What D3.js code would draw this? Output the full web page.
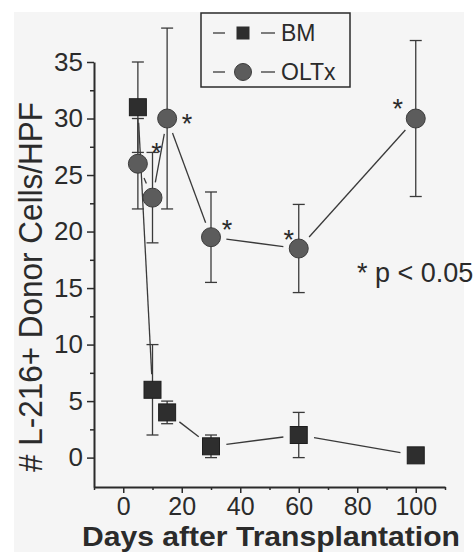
<!DOCTYPE html>
<html>
<head>
<meta charset="utf-8">
<script src="https://cdn.jsdelivr.net/npm/d3@7"></script>
<style>
  html, body { margin: 0; padding: 0; background: #fff; }
  svg { display: block; font-family: "Liberation Sans", Arial, sans-serif; }
</style>
</head>
<body>
<svg id="chart" width="475" height="552"></svg>
<script>
// data
var days = [5, 10, 15, 30, 60, 100];
var bmValues = [31, 6, 4, 1, 2, 0.2];
var bmErrors = [4, 4, 1, 1, 2, 0];
var olValues = [26, 23, 30, 19.5, 18.5, 30];
var olErrors = [4, 4, 8, 4, 3.9, 6.9];
// days marked significant, with label offsets in px
var starDays = [10, 15, 30, 60, 100];
var starOffsets = [[4, -51], [20, -1], [16, -13], [-10, -15], [-18, -16]];

var xMajor = [0, 20, 40, 60, 80, 100],
    xMinor = [-10, 10, 30, 50, 70, 90, 110],
    yMajor = [0, 5, 10, 15, 20, 25, 30, 35],
    yMinor = [2.5, 7.5, 12.5, 17.5, 22.5, 27.5, 32.5];

var ink = "#2b2b2b";

var svg = d3.select("#chart");

// paper tone of the scan
svg.append("rect")
    .attr("x", 14).attr("y", 12)
    .attr("width", 450).attr("height", 540)
    .attr("fill", "#f5f5f5");

var x = d3.scaleLinear().domain([-10, 110]).range([94, 445]),
    y = d3.scaleLinear().domain([-2.6, 35]).range([487, 62]);

// axes
var gx = svg.append("g").attr("transform", "translate(0,487)");
gx.call(d3.axisBottom(x).tickValues(xMajor).tickSize(6).tickPadding(4).tickSizeOuter(0));
gx.append("g").call(d3.axisBottom(x).tickValues(xMinor).tickSize(3).tickFormat("").tickSizeOuter(0))
    .select(".domain").remove();
gx.selectAll(".tick text").attr("font-size", 25);

var gy = svg.append("g").attr("transform", "translate(94,0)");
gy.call(d3.axisLeft(y).tickValues(yMajor).tickSize(7).tickPadding(4).tickSizeOuter(0));
gy.append("g").call(d3.axisLeft(y).tickValues(yMinor).tickSize(4).tickFormat("").tickSizeOuter(0))
    .select(".domain").remove();
gy.selectAll(".tick text").attr("font-size", 26);

svg.selectAll(".domain").attr("stroke", ink).attr("stroke-width", 2);
svg.selectAll(".tick line").attr("stroke", ink).attr("stroke-width", 1.5);
svg.selectAll(".tick text")
    .attr("fill", ink)
    .attr("font-family", "\"Liberation Sans\", Arial, sans-serif");

// axis titles
svg.append("text")
    .attr("x", 82).attr("y", 546)
    .attr("font-size", 28).attr("font-weight", "bold")
    .attr("fill", ink)
    .attr("textLength", 378).attr("lengthAdjust", "spacingAndGlyphs")
    .text("Days after Transplantation");

svg.append("text")
    .attr("transform", "translate(42,287) rotate(-90)")
    .attr("text-anchor", "middle")
    .attr("font-size", 34)
    .attr("fill", ink)
    .attr("textLength", 370).attr("lengthAdjust", "spacingAndGlyphs")
    .text("# L-216+ Donor Cells/HPF");

var bm = days.map((d, i) => ({ day: d, v: bmValues[i], e: bmErrors[i] })),
    ol = days.map((d, i) => ({ day: d, v: olValues[i], e: olErrors[i] }));

// connecting lines, cut back from the symbols
var gap = 15.5;
var drawLinks = function(series) {
    let segs = [];
    for (let i = 1; i < series.length; i++) {
        let x1 = x(series[i - 1].day), y1 = y(series[i - 1].v),
            x2 = x(series[i].day), y2 = y(series[i].v),
            len = Math.hypot(x2 - x1, y2 - y1);
        if (len <= gap * 2) continue;
        let ux = (x2 - x1) / len, uy = (y2 - y1) / len;
        segs.push([x1 + ux * gap, y1 + uy * gap, x2 - ux * gap, y2 - uy * gap]);
    }
    svg.append("g")
        .selectAll("line")
        .data(segs)
        .enter()
        .append("line")
        .attr("x1", (s) => s[0]).attr("y1", (s) => s[1])
        .attr("x2", (s) => s[2]).attr("y2", (s) => s[3])
        .attr("stroke", "#3a3a3a")
        .attr("stroke-width", 1.3);
};
drawLinks(bm);
drawLinks(ol);

// error bars
var drawErrors = function(series) {
    let g = svg.append("g")
        .selectAll("g")
        .data(series.filter((d) => d.e > 0))
        .enter()
        .append("g")
        .attr("stroke", "#3a3a3a")
        .attr("stroke-width", 1.3);
    g.append("line")
        .attr("x1", (d) => x(d.day)).attr("x2", (d) => x(d.day))
        .attr("y1", (d) => y(d.v + d.e)).attr("y2", (d) => y(d.v - d.e));
    g.append("line")
        .attr("x1", (d) => x(d.day) - 6).attr("x2", (d) => x(d.day) + 6)
        .attr("y1", (d) => y(d.v + d.e)).attr("y2", (d) => y(d.v + d.e));
    g.append("line")
        .attr("x1", (d) => x(d.day) - 6).attr("x2", (d) => x(d.day) + 6)
        .attr("y1", (d) => y(d.v - d.e)).attr("y2", (d) => y(d.v - d.e));
};
drawErrors(bm);
drawErrors(ol);

// symbols
svg.append("g")
    .selectAll("rect")
    .data(bm)
    .enter()
    .append("rect")
    .attr("x", (d) => x(d.day) - 8.5)
    .attr("y", (d) => y(d.v) - 8.5)
    .attr("width", 17).attr("height", 17)
    .attr("fill", "#2e2e2e")
    .attr("stroke", "#1e1e1e");

svg.append("g")
    .selectAll("circle")
    .data(ol)
    .enter()
    .append("circle")
    .attr("cx", (d) => x(d.day))
    .attr("cy", (d) => y(d.v))
    .attr("r", 9.5)
    .attr("fill", "#5c5c5c")
    .attr("stroke", "#3c3c3c");

// significance stars
svg.append("g")
    .selectAll("text")
    .data(starDays)
    .enter()
    .append("text")
    .attr("x", (d, i) => x(d) + starOffsets[i][0])
    .attr("y", (d, i) => y(olValues[days.indexOf(d)]) + starOffsets[i][1] + 15)
    .attr("text-anchor", "middle")
    .attr("font-size", 27)
    .attr("fill", ink)
    .text("*");

svg.append("text")
    .attr("x", 357).attr("y", 282)
    .attr("font-size", 27)
    .attr("fill", ink)
    .text("* p < 0.05");

// legend
var legend = svg.append("g");
legend.append("rect")
    .attr("x", 201).attr("y", 13)
    .attr("width", 149).attr("height", 74)
    .attr("fill", "none")
    .attr("stroke", ink)
    .attr("stroke-width", 1.5);

var legendRows = [{ name: "BM", y: 33 }, { name: "OLTx", y: 72 }];
legendRows.forEach((row) => {
    legend.append("line")
        .attr("x1", 213).attr("x2", 225).attr("y1", row.y).attr("y2", row.y)
        .attr("stroke", "#3a3a3a").attr("stroke-width", 1.3);
    legend.append("line")
        .attr("x1", 261).attr("x2", 275).attr("y1", row.y).attr("y2", row.y)
        .attr("stroke", "#3a3a3a").attr("stroke-width", 1.3);
    legend.append("text")
        .attr("x", 281).attr("y", row.y + 8)
        .attr("font-size", 23)
        .attr("fill", ink)
        .text(row.name);
});
legend.append("rect")
    .attr("x", 236.5).attr("y", 33 - 6.5)
    .attr("width", 13).attr("height", 13)
    .attr("fill", "#2e2e2e");
legend.append("circle")
    .attr("cx", 243).attr("cy", 72)
    .attr("r", 8.5)
    .attr("fill", "#5c5c5c")
    .attr("stroke", "#3c3c3c");
</script>
</body>
</html>
